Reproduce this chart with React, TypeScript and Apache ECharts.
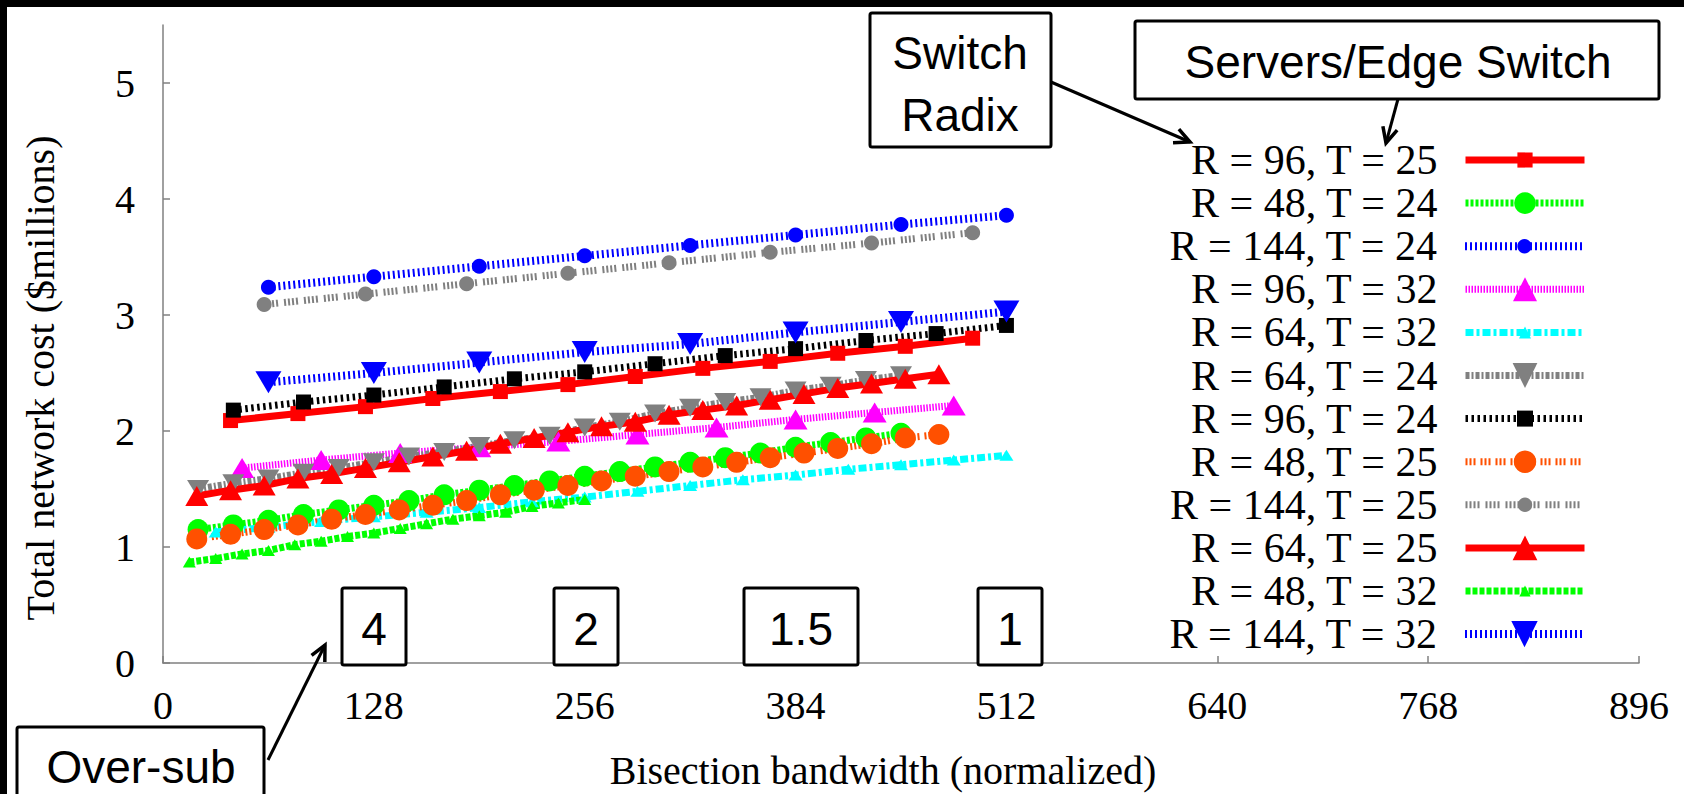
import { useEffect, useRef } from 'react';
import * as echarts from 'echarts';

const SERIF = 'Liberation Serif, Times New Roman, serif';
const SANS = 'Liberation Sans, Arial, sans-serif';

const seriesNames = [
  'R = 96, T = 25', 'R = 48, T = 24', 'R = 144, T = 24', 'R = 96, T = 32',
  'R = 64, T = 32', 'R = 64, T = 24', 'R = 96, T = 24', 'R = 48, T = 25',
  'R = 144, T = 25', 'R = 64, T = 25', 'R = 48, T = 32', 'R = 144, T = 32',
];

const xTicks = [0, 128, 256, 384, 512, 640, 768, 896];
const yTicks = [0, 1, 2, 3, 4, 5];
const overSubLabels = ['4', '2', '1.5', '1'];

// x values (bisection bandwidth) per series
const x96_25 = [41.0, 81.9, 122.9, 163.8, 204.8, 245.8, 286.7, 327.7, 368.6, 409.6, 450.6, 491.5];
const y96_25 = [2.09, 2.15, 2.21, 2.28, 2.34, 2.40, 2.47, 2.54, 2.60, 2.67, 2.73, 2.80];

const x48_24 = [21.3, 42.7, 64.0, 85.3, 106.7, 128.0, 149.3, 170.7, 192.0, 213.3, 234.7, 256.0, 277.3, 298.7, 320.0, 341.3, 362.7, 384.0, 405.3, 426.7, 448.0];
const y48_24 = [1.15, 1.19, 1.23, 1.28, 1.32, 1.36, 1.40, 1.45, 1.49, 1.53, 1.57, 1.61, 1.65, 1.69, 1.73, 1.77, 1.81, 1.86, 1.90, 1.94, 1.98];

const x144_24 = [64, 128, 192, 256, 320, 384, 448, 512];
const y144_24 = [3.24, 3.33, 3.42, 3.51, 3.60, 3.69, 3.78, 3.86];

const x96_32 = [48, 96, 144, 192, 240, 288, 336, 384, 432, 480];
const y96_32 = [1.68, 1.75, 1.81, 1.86, 1.91, 1.97, 2.03, 2.10, 2.16, 2.22];

const x64_32 = [32, 64, 96, 128, 160, 192, 224, 256, 288, 320, 352, 384, 416, 448, 480, 512];
const y64_32 = [1.13, 1.17, 1.22, 1.26, 1.30, 1.34, 1.39, 1.43, 1.48, 1.53, 1.58, 1.62, 1.67, 1.71, 1.75, 1.79];

const x64_24 = [21.3, 42.7, 64.0, 85.3, 106.7, 128.0, 149.3, 170.7, 192.0, 213.3, 234.7, 256.0, 277.3, 298.7, 320.0, 341.3, 362.7, 384.0, 405.3, 426.7, 448.0];
const y64_24 = [1.50, 1.55, 1.59, 1.64, 1.68, 1.73, 1.78, 1.82, 1.87, 1.92, 1.96, 2.03, 2.08, 2.15, 2.20, 2.25, 2.29, 2.35, 2.39, 2.44, 2.48];

const x96_24 = [42.7, 85.3, 128.0, 170.7, 213.3, 256.0, 298.7, 341.3, 384.0, 426.7, 469.3, 512.0];
const y96_24 = [2.18, 2.25, 2.31, 2.38, 2.45, 2.51, 2.58, 2.65, 2.71, 2.78, 2.84, 2.91];

const x48_25 = [20.5, 41.0, 61.4, 81.9, 102.4, 122.9, 143.4, 163.8, 184.3, 204.8, 225.3, 245.8, 266.2, 286.7, 307.2, 327.7, 348.2, 368.6, 389.1, 409.6, 430.1, 450.6, 471.0];
const y48_25 = [1.07, 1.11, 1.15, 1.19, 1.24, 1.28, 1.32, 1.36, 1.40, 1.45, 1.49, 1.53, 1.57, 1.61, 1.65, 1.69, 1.73, 1.77, 1.81, 1.85, 1.89, 1.94, 1.97];

const x144_25 = [61.4, 122.9, 184.3, 245.8, 307.2, 368.6, 430.1, 491.5];
const y144_25 = [3.09, 3.18, 3.27, 3.36, 3.45, 3.54, 3.62, 3.71];

const x64_25 = [20.5, 41.0, 61.4, 81.9, 102.4, 122.9, 143.4, 163.8, 184.3, 204.8, 225.3, 245.8, 266.2, 286.7, 307.2, 327.7, 348.2, 368.6, 389.1, 409.6, 430.1, 450.6, 471.0];
const y64_25 = [1.44, 1.49, 1.53, 1.59, 1.63, 1.68, 1.73, 1.78, 1.83, 1.89, 1.94, 1.99, 2.04, 2.08, 2.14, 2.18, 2.22, 2.27, 2.32, 2.37, 2.41, 2.45, 2.49];

const x48_32 = [16, 32, 48, 64, 80, 96, 112, 128, 144, 160, 176, 192, 208, 224, 240, 256];
const y48_32 = [0.87, 0.90, 0.94, 0.97, 1.02, 1.05, 1.09, 1.12, 1.16, 1.20, 1.24, 1.27, 1.30, 1.35, 1.38, 1.41];

const x144_32 = [64, 128, 192, 256, 320, 384, 448, 512];
const y144_32 = [2.42, 2.50, 2.59, 2.68, 2.75, 2.85, 2.94, 3.03];

const xData = [x96_25, x48_24, x144_24, x96_32, x64_32, x64_24, x96_24, x48_25, x144_25, x64_25, x48_32, x144_32];
const yData = [y96_25, y48_24, y144_24, y96_32, y64_32, y64_24, y96_24, y48_25, y144_25, y64_25, y48_32, y144_32];

const TRI_DOWN = 'path://M0,0L20,0L10,17Z';

const styles: any[] = [
  { color: '#ff0000', symbol: 'rect', size: [15, 15], width: 7, dash: 'solid', legendH: 19 },
  { color: '#00ff00', symbol: 'circle', size: 21, width: 7, dash: [3, 2], legendH: 27 },
  { color: '#0000ff', symbol: 'circle', size: 15, width: 8, dash: [2, 3], legendH: 18 },
  { color: '#ff00ff', symbol: 'triangle', size: [24, 20], width: 7, dash: [1.5, 1.5], legendH: 30 },
  { color: '#00ffff', symbol: 'triangle', size: [14, 11], width: 7, dash: [8, 3, 3, 3], legendH: 15 },
  { color: '#808080', symbol: TRI_DOWN, size: [22, 18], width: 7, dash: [4, 2, 2, 2], legendH: 31 },
  { color: '#000000', symbol: 'rect', size: [15, 15], width: 7, dash: [2.5, 3.5], legendH: 20 },
  { color: '#ff5000', symbol: 'circle', size: 21, width: 7, dash: [2, 2, 2, 2, 2, 5], legendH: 28 },
  { color: '#808080', symbol: 'circle', size: 15, width: 7, dash: [2, 2, 2, 2, 2, 2, 2, 6], legendH: 18 },
  { color: '#ff0000', symbol: 'triangle', size: [23, 20], width: 7, dash: 'solid', legendH: 31 },
  { color: '#00ff00', symbol: 'triangle', size: [13, 11], width: 7, dash: [5, 2], legendH: 14 },
  { color: '#0000ff', symbol: TRI_DOWN, size: [26, 22], width: 8, dash: [2, 3], legendH: 33 },
];

function arrow(x1: number, y1: number, x2: number, y2: number) {
  const ang = Math.atan2(y2 - y1, x2 - x1);
  const L = 17;
  const a = 0.45;
  const p1 = [x2 - L * Math.cos(ang - a), y2 - L * Math.sin(ang - a)];
  const p2 = [x2 - L * Math.cos(ang + a), y2 - L * Math.sin(ang + a)];
  return [
    { type: 'line', z: 50, shape: { x1, y1, x2, y2 }, style: { stroke: '#000', lineWidth: 3 } },
    { type: 'polyline', z: 50, shape: { points: [p1, [x2, y2], p2] }, style: { stroke: '#000', lineWidth: 3.5, fill: 'none' } },
  ];
}

function box(x: number, y: number, w: number, h: number) {
  return { type: 'rect', z: 50, shape: { x, y, width: w, height: h, r: 2 }, style: { fill: '#fff', stroke: '#000', lineWidth: 3 } };
}

function label(text: string, x: number, y: number, size: number, family: string, rotation = 0) {
  return {
    type: 'text', z: 51, x, y, rotation,
    style: {
      text, fill: '#000', fontSize: size, fontFamily: family,
      align: 'center', verticalAlign: 'middle', textAlign: 'center', textVerticalAlign: 'middle',
    },
  };
}

const overSubBoxes = [
  { x: 342, w: 64 },
  { x: 554, w: 64 },
  { x: 744, w: 114 },
  { x: 978, w: 64 },
];

export default function App() {
  const ref = useRef<HTMLDivElement>(null);
  useEffect(() => {
    const chart = echarts.init(ref.current!, null, { renderer: 'svg' });

    const graphic: any[] = [
      { type: 'rect', z: 100, shape: { x: 0, y: 0, width: 1684, height: 7 }, style: { fill: '#000' } },
      { type: 'rect', z: 100, shape: { x: 0, y: 0, width: 7, height: 794 }, style: { fill: '#000' } },
      label('Total network cost ($millions)', 40, 378, 40, SERIF, Math.PI / 2),
      label('Bisection bandwidth (normalized)', 883, 770, 40, SERIF),
      box(870, 13, 181, 134),
      label('Switch', 960, 53, 46, SANS),
      label('Radix', 960, 115, 46, SANS),
      ...arrow(1051, 82, 1190, 142),
      box(1135, 21, 524, 78),
      label('Servers/Edge Switch', 1398, 62, 46, SANS),
      ...arrow(1398, 99, 1386, 143),
      box(17, 727, 247, 110),
      label('Over-sub', 141, 767, 46, SANS),
      ...arrow(268, 760, 325, 645),
    ];
    overSubBoxes.forEach((b, i) => {
      graphic.push(box(b.x, 588, b.w, 77));
      graphic.push(label(overSubLabels[i], b.x + b.w / 2, 629, 46, SANS));
    });

    const option: any = {
      animation: false,
      backgroundColor: '#fff',
      grid: { left: 163, right: 45, top: 25, bottom: 131, containLabel: false },
      xAxis: {
        type: 'value', min: 0, max: 896, interval: 128,
        axisLine: { show: true, onZero: false, lineStyle: { color: '#808080', width: 1.5 } },
        axisTick: { show: true, inside: true, length: 7, lineStyle: { color: '#808080', width: 1.5 } },
        splitLine: { show: false },
        axisLabel: {
          fontFamily: SERIF, fontSize: 40, color: '#000', margin: 22,
          customValues: xTicks,
        },
      },
      yAxis: {
        type: 'value', min: 0, max: 5.5, interval: 1,
        axisLine: { show: true, onZero: false, lineStyle: { color: '#808080', width: 1.5 } },
        axisTick: { show: true, inside: true, length: 7, lineStyle: { color: '#808080', width: 1.5 }, customValues: yTicks },
        splitLine: { show: false },
        axisLabel: { fontFamily: SERIF, fontSize: 40, color: '#000', margin: 28, customValues: yTicks },
      },
      legend: seriesNames.map((n, i) => ({
        data: [n],
        orient: 'vertical',
        align: 'right',
        right: 96,
        top: 160 + 43.1 * i - 21,
        itemWidth: 119,
        itemHeight: styles[i].legendH,
        padding: 0,
        selectedMode: false,
        lineStyle: { color: styles[i].color, width: styles[i].width, type: styles[i].dash },
        textStyle: { fontFamily: SERIF, fontSize: 42, color: '#000', padding: [0, 23, 0, 0] },
      })),
      series: seriesNames.map((n, i) => {
        const st = styles[i];
        return {
          name: n,
          type: 'line',
          data: xData[i].map((x, j) => [x, yData[i][j]]),
          symbol: st.symbol,
          symbolSize: st.size,
          showSymbol: true,
          showAllSymbol: true,
          clip: false,
          silent: true,
          lineStyle: { color: st.color, width: st.width, type: st.dash },
          itemStyle: { color: st.color },
          emphasis: { disabled: true },
        };
      }),
      graphic,
    };
    chart.setOption(option);
    return () => chart.dispose();
  }, []);
  return (
    <div
      ref={ref}
      style={{ position: 'fixed', left: 0, top: 0, width: 1684, height: 794, background: '#fff' }}
    />
  );
}
